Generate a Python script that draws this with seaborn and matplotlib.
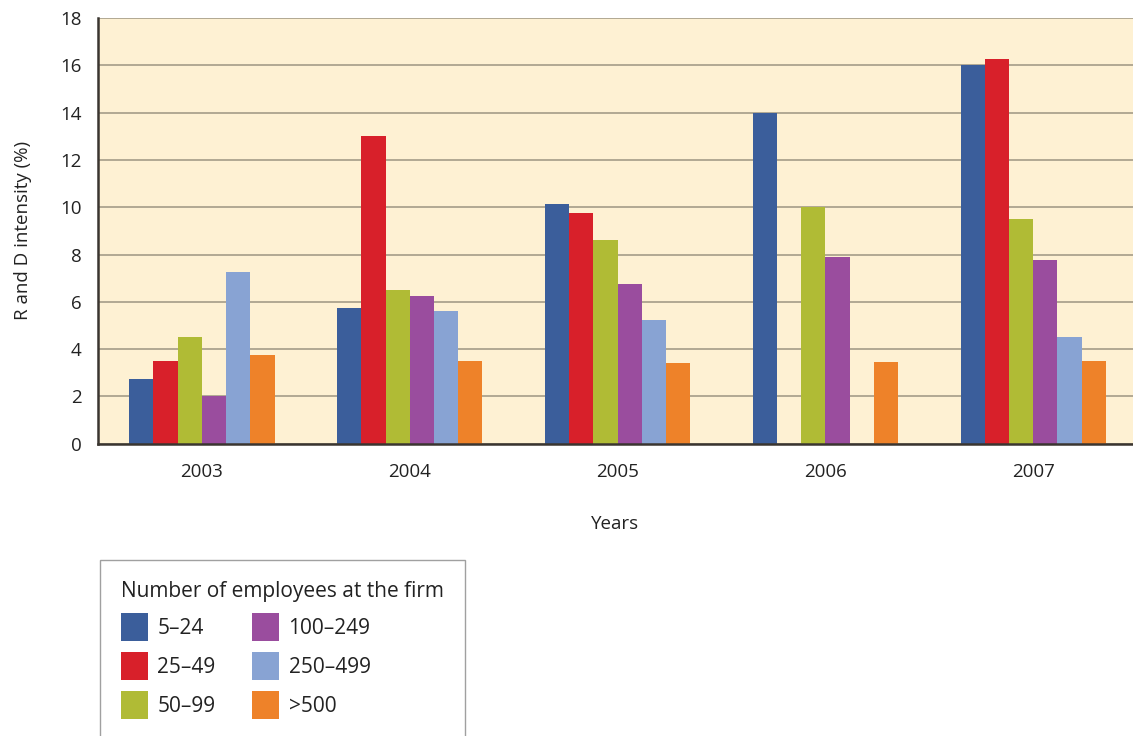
import matplotlib
matplotlib.use("Agg")
import matplotlib.pyplot as plt
import matplotlib.patches as mpatches
from matplotlib.ticker import FixedLocator
import numpy as np
import pandas as pd
import seaborn as sns

years = ["2003", "2004", "2005", "2006", "2007"]
groups = ["5–24", "25–49", "50–99", "100–249", "250–499", ">500"]
v_5_24 = [2.75, 5.75, 10.15, 14.0, 16.0]
v_25_49 = [3.5, 13.0, 9.75, np.nan, 16.25]
v_50_99 = [4.5, 6.5, 8.6, 10.0, 9.5]
v_100_249 = [2.0, 6.25, 6.75, 7.9, 7.75]
v_250_499 = [7.27, 5.6, 5.25, np.nan, 4.5]
v_500 = [3.76, 3.5, 3.4, 3.45, 3.5]
colors = ["#3B5E9B", "#D8202A", "#B0BB35", "#9A4D9E", "#88A3D3", "#EE8229"]

series = [v_5_24, v_25_49, v_50_99, v_100_249, v_250_499, v_500]
rows = []
for g, vals in zip(groups, series):
    for y, v in zip(years, vals):
        rows.append({"Year": y, "Group": g, "Value": v})
df = pd.DataFrame(rows)

sns.set_style("white")
plt.rcParams["font.family"] = ["Open Sans", "DejaVu Sans"]

FS = 13.5
LFS = 15
fig = plt.figure(figsize=(11.33, 7.36), dpi=100)
ax = fig.add_axes([0.0865, 0.397, 0.9135, 0.5785])
ax.set_facecolor("#FEF1D3")

sns.barplot(data=df, x="Year", y="Value", hue="Group", hue_order=groups,
            order=years, palette=colors, saturation=1, width=0.7, gap=0,
            ax=ax, legend=False, linewidth=0, edgecolor="none",
            err_kws={"linewidth": 0})

ax.set_ylim(0, 18)
ax.set_xlim(-0.5, 4.48)
ax.set_yticks(range(0, 19, 2))
ax.yaxis.grid(True, color="#ABA38E", linewidth=1.3)
ax.set_axisbelow(True)
ax.tick_params(axis="y", direction="in", length=18, width=1.6, color="#3A3530",
               labelsize=FS, pad=12, labelcolor="#222222")
ax.tick_params(axis="x", which="major", length=0, labelsize=FS, pad=14,
               labelcolor="#222222")
ax.xaxis.set_minor_locator(FixedLocator([0.5, 1.5, 2.5, 3.5]))
ax.tick_params(axis="x", which="minor", direction="in", length=9, width=1.3,
               color="#3A3530")

for s in ["top", "right"]:
    ax.spines[s].set_visible(False)
for s in ["left", "bottom"]:
    ax.spines[s].set_color("#3A3530")
    ax.spines[s].set_linewidth(1.8)

ax.set_xlabel("Years", fontsize=FS, labelpad=24, color="#222222")
ax.set_ylabel("R and D intensity (%)", fontsize=FS, labelpad=20, color="#222222")

handles = [mpatches.Patch(facecolor=c, edgecolor="none", label=g)
           for c, g in zip(colors, groups)]
leg = fig.legend(handles=handles, loc="upper left", bbox_to_anchor=(0.0883, 0.2391),
                 borderaxespad=0, ncol=2, title="Number of employees at the firm",
                 fontsize=LFS, title_fontsize=LFS, frameon=True, fancybox=False,
                 edgecolor="#888888", handlelength=1.3, handleheight=1.69,
                 handletextpad=0.45, columnspacing=1.75, labelspacing=0.53,
                 borderpad=1.0)
leg._legend_box.align = "left"
leg.get_frame().set_linewidth(1.0)
for t in leg.get_texts():
    t.set_color("#222222")
leg.get_title().set_color("#222222")

fig.savefig("out.png", dpi=100, facecolor="white")
